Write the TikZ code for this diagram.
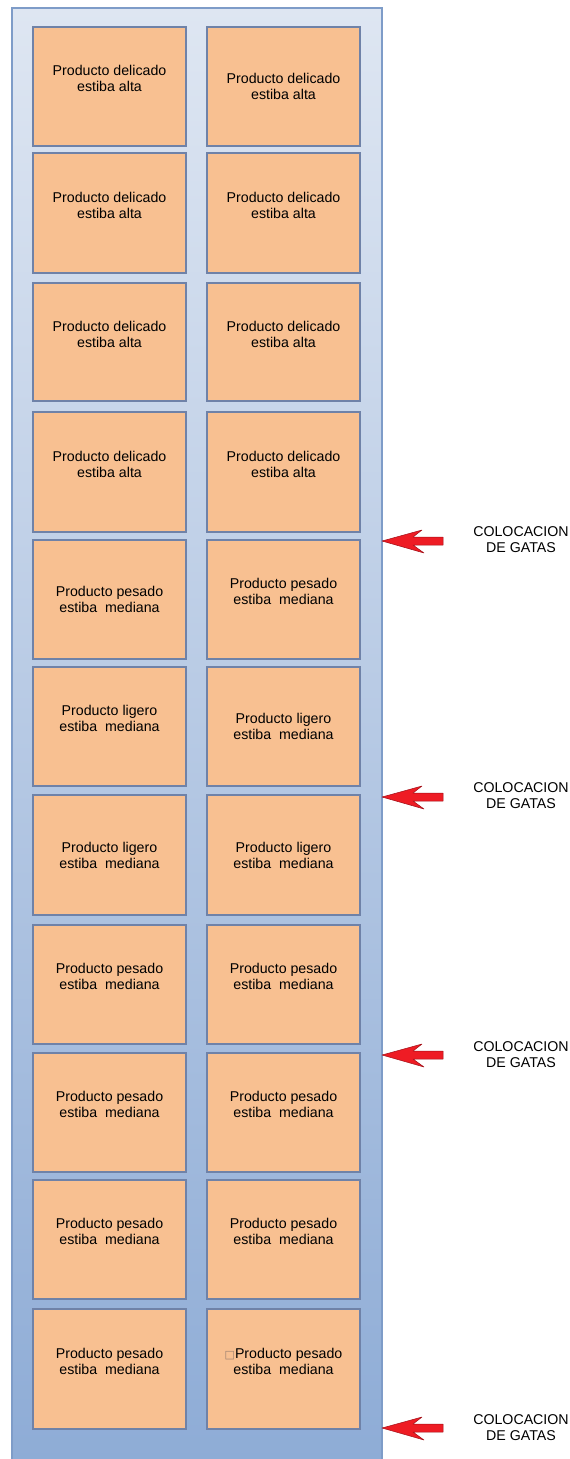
\documentclass[tikz,border=0pt]{standalone}
\usepackage{fontspec}
\setmainfont{Liberation Sans}
\newfontfamily\symfont{DejaVu Sans}
\definecolor{boxfill}{HTML}{F8C091}
\definecolor{boxline}{HTML}{6F82A8}
\definecolor{contline}{HTML}{7E9CC8}
\definecolor{conttop}{HTML}{DEE6F2}
\definecolor{contbot}{HTML}{8EACD6}
\definecolor{arrred}{HTML}{EE1C24}
\definecolor{arrdark}{HTML}{A01018}
\definecolor{glyphc}{HTML}{9A8070}
\tikzset{
  crate/.style={draw=boxline, line width=1.1pt, fill=boxfill, inner sep=0pt, minimum width=153pt},
  crtext/.style={align=center, font=\fontsize{14.2}{16}\selectfont, inner sep=0pt},
  gtext/.style={align=center, font=\fontsize{14.2}{16}\selectfont, inner sep=0pt},
  redarrow/.style={fill=arrred, draw=arrdark, line width=0.5pt, line join=round}
}
\begin{document}
\begin{tikzpicture}[x=1pt,y=-1pt]
\useasboundingbox (0,0) rectangle (570,1459);
% container
\shade[top color=conttop, bottom color=contbot] (12,8) rectangle (382,1462);
\draw[contline, line width=1.2pt] (12,1462) -- (12,8) -- (382,8) -- (382,1462);
% boxes: row, top, bottom, left offset, right offset
\foreach \rw/\tp/\bt/\oL/\oR/\tL/\tR in {
 1/27/146/-8/0/{Producto delicado\\estiba alta}/{Producto delicado\\estiba alta},
 2/153/273/-8/-8/{Producto delicado\\estiba alta}/{Producto delicado\\estiba alta},
 3/283/401/-8/-8/{Producto delicado\\estiba alta}/{Producto delicado\\estiba alta},
 4/412/532/-8/-8/{Producto delicado\\estiba alta}/{Producto delicado\\estiba alta},
 5/540/659/0/-8/{Producto pesado\\estiba\ \ mediana}/{Producto pesado\\estiba\ \ mediana},
 6/667/786/-8/0/{Producto ligero\\estiba\ \ mediana}/{Producto ligero\\estiba\ \ mediana},
 7/795/915/0/0/{Producto ligero\\estiba\ \ mediana}/{Producto ligero\\estiba\ \ mediana},
 8/925/1044/-8/-8/{Producto pesado\\estiba\ \ mediana}/{Producto pesado\\estiba\ \ mediana},
 9/1053/1172/-8/-8/{Producto pesado\\estiba\ \ mediana}/{Producto pesado\\estiba\ \ mediana},
 10/1180/1299/-8/-8/{Producto pesado\\estiba\ \ mediana}/{Producto pesado\\estiba\ \ mediana},
 11/1309/1429/-8/-8/{Producto pesado\\estiba\ \ mediana}/{{\symfont\fontsize{11}{11}\selectfont\textcolor{glyphc}{□}}Producto pesado\\estiba\ \ mediana}}{
  \pgfmathsetmacro{\hh}{\bt-\tp}
  \pgfmathsetmacro{\cc}{(\bt+\tp)/2}
  \node[crate, minimum height=\hh pt] (L\rw) at (109.5,\cc) {};
  \node[crate, minimum height=\hh pt] (R\rw) at (283.5,\cc) {};
  \node[crtext] (LT\rw) at ([yshift=-\oL pt]L\rw.center) {\tL};
  \node[crtext] (RT\rw) at ([yshift=-\oR pt]R\rw.center) {\tR};
}
% arrows
\foreach \i/\y in {1/541, 2/797, 3/1055, 4/1428}{
  \node[coordinate] (tip\i) at (382,\y) {};
  \draw[redarrow] (tip\i) -- ++(40,-11) -- ++(-9,7) -- ++(30,0) -- ++(0,8) -- ++(-30,0) -- ++(11,8) -- cycle;
}
\node[gtext] (g1) at (521,540) {COLOCACION\\DE GATAS};
\node[gtext] (g2) at (521,796) {COLOCACION\\DE GATAS};
\node[gtext] (g3) at (521,1055) {COLOCACION\\DE GATAS};
\node[gtext] (g4) at (521,1428) {COLOCACION\\DE GATAS};
\end{tikzpicture}
\end{document}
